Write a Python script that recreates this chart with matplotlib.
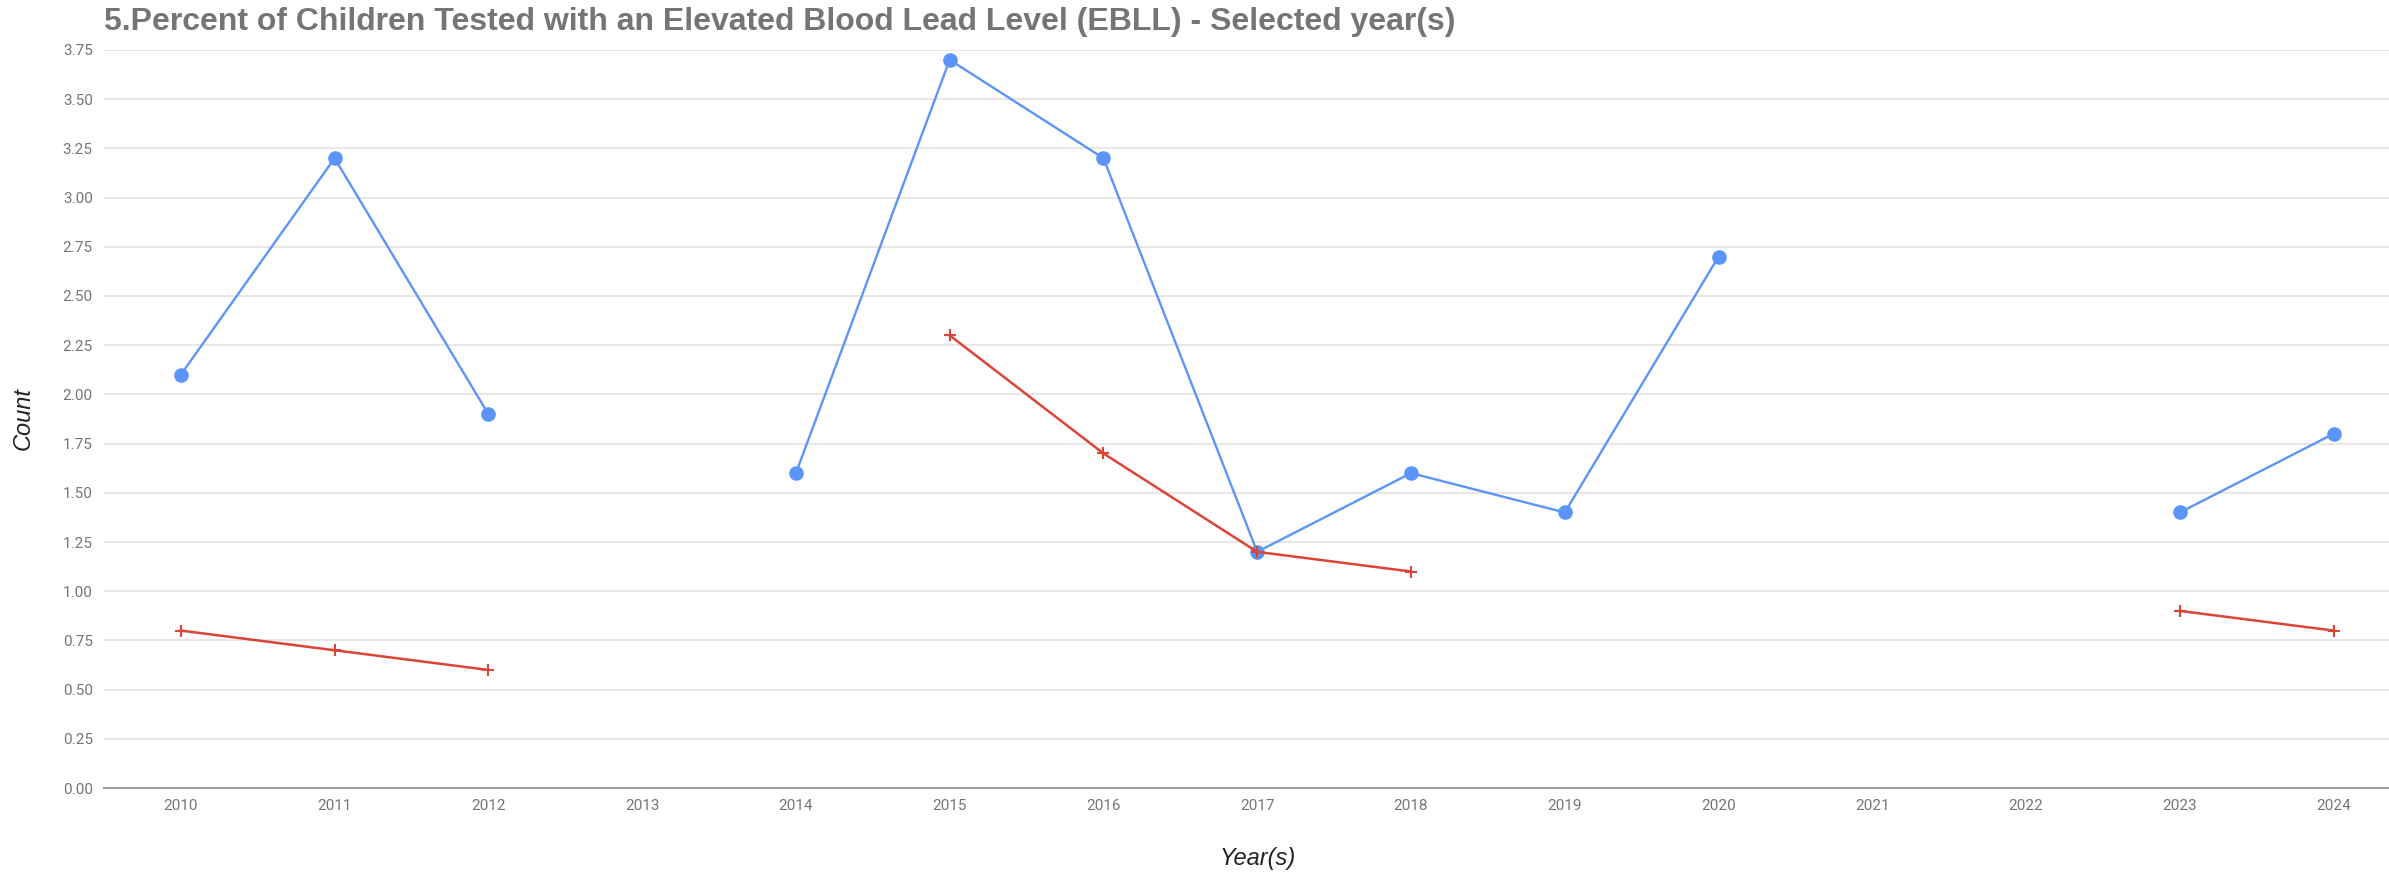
import matplotlib
matplotlib.use("Agg")
import matplotlib.pyplot as plt
import numpy as np

# Data (None = no value for that year)
years = ["2010", "2011", "2012", "2013", "2014", "2015", "2016", "2017",
         "2018", "2019", "2020", "2021", "2022", "2023", "2024"]
blue_values = [2.1, 3.2, 1.9, None, 1.6, 3.7, 3.2, 1.2,
               1.6, 1.4, 2.7, None, None, 1.4, 1.8]
red_values = [0.8, 0.7, 0.6, None, None, 2.3, 1.7, 1.2,
              1.1, None, None, None, None, 0.9, 0.8]
y_ticks = [0.0, 0.25, 0.5, 0.75, 1.0, 1.25, 1.5, 1.75, 2.0,
           2.25, 2.5, 2.75, 3.0, 3.25, 3.5, 3.75]

title = "5.Percent of Children Tested with an Elevated Blood Lead Level (EBLL) - Selected year(s)"

blue = np.array([np.nan if v is None else v for v in blue_values])
red = np.array([np.nan if v is None else v for v in red_values])
x = np.arange(len(years))

fig = plt.figure(figsize=(23.89, 8.75), dpi=100)
ax = fig.add_axes([0.0435, 0.0994, 0.9565, 0.8435])

ax.plot(x, blue, color="#5b95f9", lw=1.7, marker="o", markersize=9.5, zorder=3)
ax.plot(x, red, color="#db4437", lw=1.8, marker="+", markersize=9,
        markeredgewidth=1.5, zorder=4)

ax.set_xlim(-0.5, 14.36)
ax.set_ylim(0, 3.75)
ax.set_xticks(x)
ax.set_xticklabels(years)
ax.set_yticks(y_ticks)
ax.set_yticklabels([f"{t:.2f}" for t in y_ticks])
ax.tick_params(length=0, labelsize=11, labelcolor="#757575", pad=8)
for lbl in ax.get_xticklabels() + ax.get_yticklabels():
    lbl.set_family("Roboto")

ax.grid(axis="y", color="#e3e3e3", lw=1.2)
ax.set_axisbelow(True)
for s in ["top", "right", "left"]:
    ax.spines[s].set_visible(False)
ax.spines["bottom"].set_color("#9e9e9e")
ax.spines["bottom"].set_linewidth(1.5)

fig.text(104 / 2389, 1 - 22 / 875, title, fontsize=23, fontweight="bold",
         color="#757575", family="Liberation Sans", va="center", ha="left")
fig.text(23 / 2389, 1 - 419 / 875, "Count", fontsize=17, style="italic",
         color="#222222", family="Liberation Sans", rotation=90,
         va="center", ha="center")
fig.text(1258 / 2389, 1 - 858 / 875, "Year(s)", fontsize=17, style="italic",
         color="#222222", family="Liberation Sans", va="center", ha="center")

fig.savefig("out.png", dpi=100)
